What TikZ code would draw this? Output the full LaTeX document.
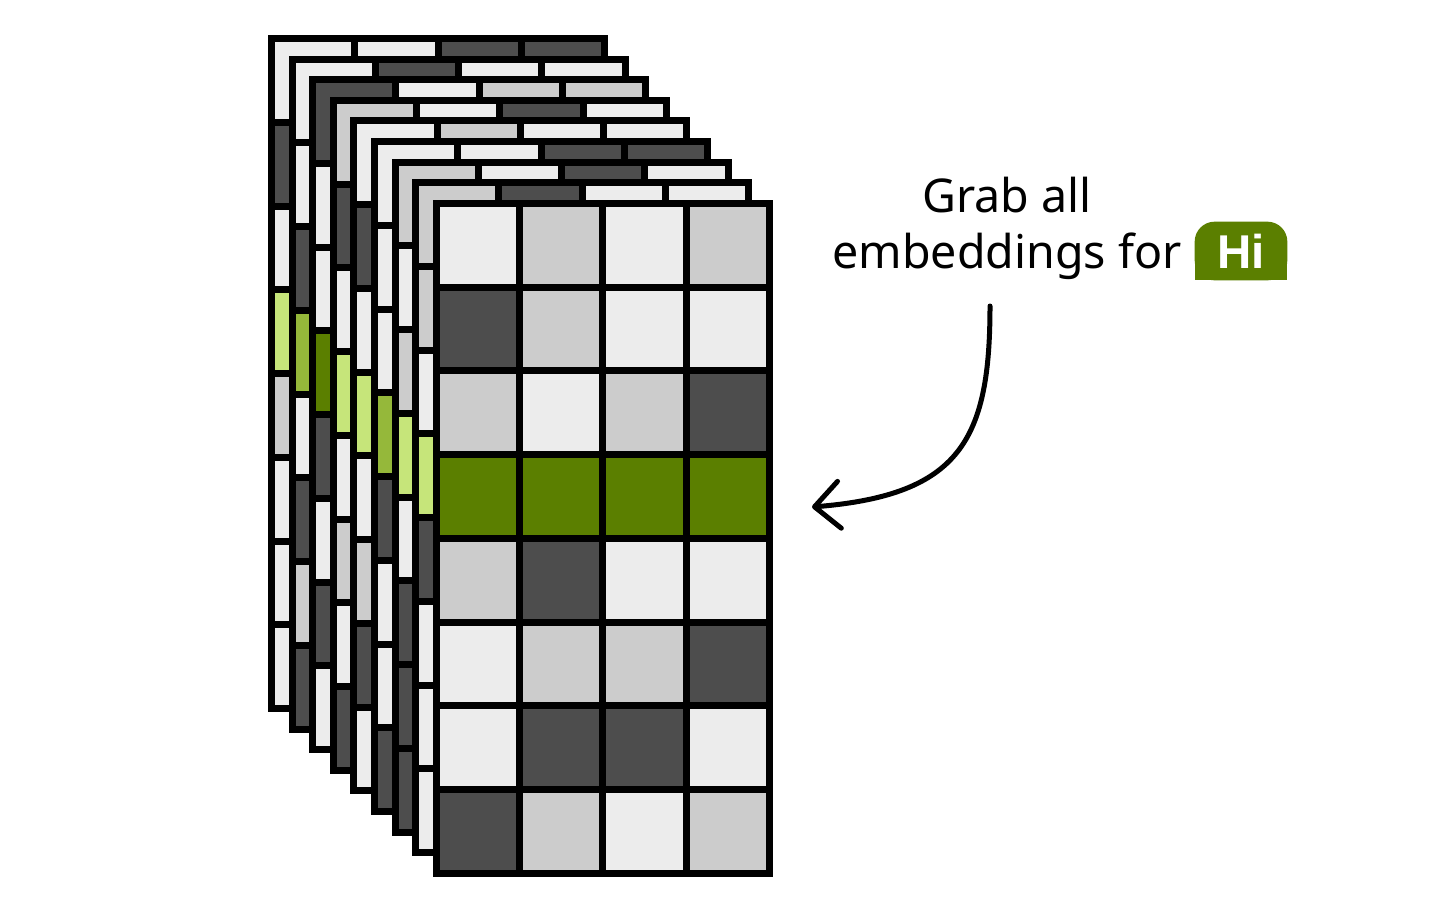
\documentclass[tikz,border=0pt]{standalone}
\usepackage{fontspec}
\setmainfont{Noto Sans}
\newfontfamily\hifont{Liberation Sans}
\usepackage{tikz}
\usetikzlibrary{arrows.meta,positioning,backgrounds}
\usepackage{xcolor}
\definecolor{cw}{HTML}{ECECEC}
\definecolor{cm}{HTML}{CCCCCC}
\definecolor{cd}{HTML}{4D4D4D}
\definecolor{gd}{HTML}{5B7F00}
\definecolor{gm}{HTML}{95B83A}
\definecolor{gl}{HTML}{C6E57A}
\tikzset{
  cell/.style={draw=black,line width=0.14cm},
  lbl/.style={font=\fontsize{26.5}{32}\selectfont,inner sep=0pt},
  badge/.style={font=\hifont\fontsize{27}{32}\selectfont\bfseries,text=white,minimum width=1.84cm,minimum height=1.16cm,inner sep=0pt},
  pointer/.style={-{Straight Barb[length=0.5cm,width=0.94cm,round]},line width=0.1cm,line cap=round},
}
% one embedding matrix: #1 = depth index, #2..#9 = rows
\newcommand{\emblayer}[9]{%
  \begin{scope}[shift={(20.6*#1,20.6*#1)}]
    \foreach \row [count=\ri from 0] in {{#2},{#3},{#4},{#5},{#6},{#7},{#8},{#9}} {
      \foreach \clr [count=\ci from 0] in \row {
        \filldraw[cell,fill=\clr] (271.5+83.25*\ci,38.5+83.75*\ri) rectangle ++(83.25,83.75);
      }
    }
  \end{scope}}

\begin{document}
\begin{tikzpicture}[x=0.02cm,y=-0.02cm]
  \useasboundingbox (0,0) rectangle (1456,913);
  % stack, back to front
  \emblayer{0}{cw,cw,cd,cd}{cd,cm,cw,cw}{cw,cd,cm,cw}{gl,gl,gl,gl}{cm,cw,cd,cw}{cw,cm,cw,cd}{cw,cd,cw,cm}{cw,cm,cd,cw}
  \emblayer{1}{cw,cd,cw,cw}{cw,cm,cd,cw}{cd,cw,cm,cw}{gm,gm,gm,gm}{cw,cd,cw,cm}{cd,cw,cm,cw}{cm,cw,cd,cw}{cd,cm,cw,cw}
  \emblayer{2}{cd,cw,cm,cm}{cw,cd,cw,cm}{cw,cm,cd,cw}{gd,gd,gd,gd}{cd,cw,cm,cw}{cw,cm,cw,cd}{cd,cw,cw,cm}{cw,cd,cm,cw}
  \emblayer{3}{cm,cw,cd,cw}{cd,cw,cm,cw}{cw,cd,cw,cm}{gl,gl,gl,gl}{cw,cm,cd,cw}{cm,cw,cw,cd}{cw,cd,cm,cw}{cd,cw,cm,cw}
  \emblayer{4}{cw,cm,cw,cw}{cd,cw,cm,cw}{cw,cm,cd,cw}{gl,gl,gl,gl}{cw,cd,cw,cm}{cm,cw,cd,cw}{cd,cm,cw,cw}{cw,cd,cm,cw}
  \emblayer{5}{cw,cw,cd,cd}{cw,cm,cw,cd}{cw,cd,cm,cw}{gm,gm,gm,gm}{cd,cw,cw,cm}{cw,cm,cd,cw}{cw,cd,cw,cm}{cd,cw,cm,cw}
  \emblayer{6}{cm,cw,cd,cw}{cw,cd,cw,cm}{cm,cw,cd,cw}{gl,gl,gl,gl}{cw,cm,cw,cd}{cd,cw,cm,cw}{cd,cm,cw,cw}{cd,cw,cw,cm}
  \emblayer{7}{cm,cd,cw,cw}{cm,cw,cd,cw}{cw,cm,cw,cd}{gl,gl,gl,gl}{cd,cw,cm,cw}{cw,cd,cw,cm}{cw,cm,cd,cw}{cw,cd,cm,cw}
  \emblayer{8}{cw,cm,cw,cm}{cd,cm,cw,cw}{cm,cw,cm,cd}{gd,gd,gd,gd}{cm,cd,cw,cw}{cw,cm,cm,cd}{cw,cd,cd,cw}{cd,cm,cw,cm}

  \node[lbl,anchor=base] (grab) at (1007,212) {Grab all};
  \node[lbl,anchor=base] (emb) at (1007,268) {embeddings for};
  \node[badge] (hi) at (1241,251) {Hi};
  \begin{scope}[on background layer]
    \fill[gd,rounded corners=0.4cm] (hi.south west) rectangle (hi.north east);
    \fill[gd] (hi.south west) rectangle (hi.east);
  \end{scope}

  \coordinate (tail) at (990,306);
  \coordinate (tip) at (812,507);
  \draw[pointer] (tail) .. controls (990,440) and (960,495) .. (tip);
\end{tikzpicture}
\end{document}
